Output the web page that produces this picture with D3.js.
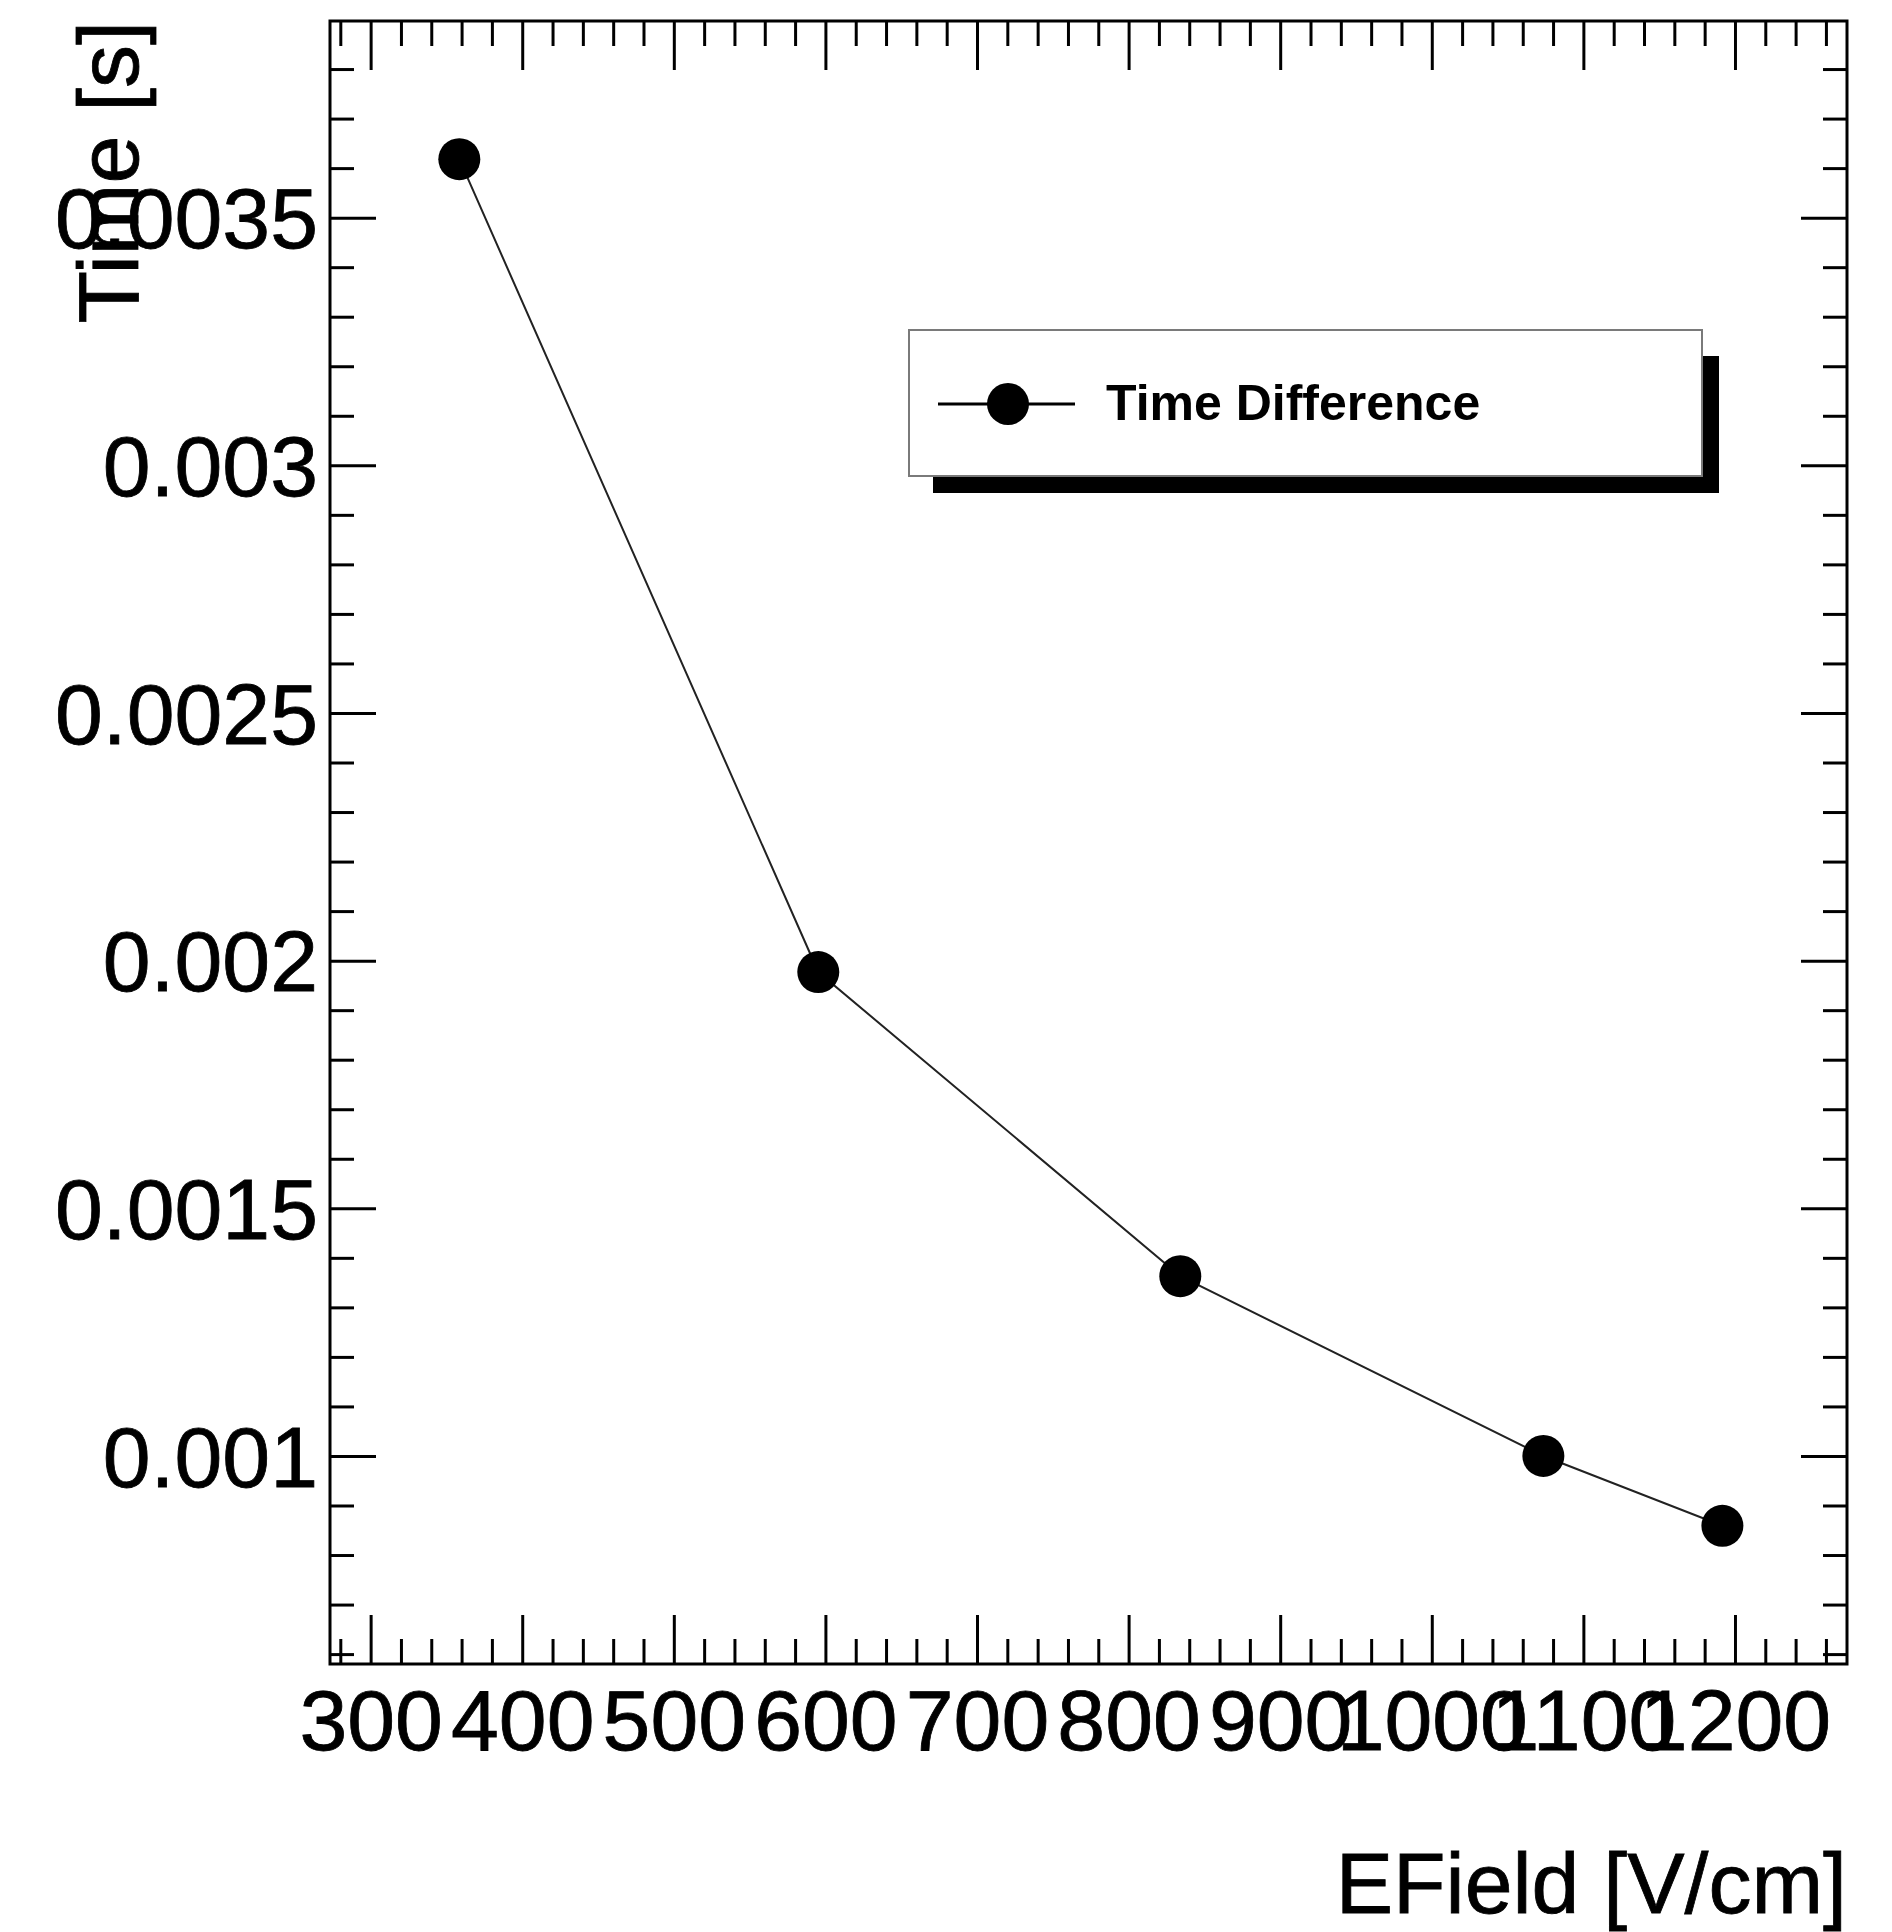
<!DOCTYPE html>
<html>
<head>
<meta charset="utf-8">
<script src="https://cdn.jsdelivr.net/npm/d3@7"></script>
<style>
  html, body { margin: 0; padding: 0; background: #fff; }
  svg { display: block; }
  text { font-family: "Liberation Sans", Arial, Helvetica, sans-serif; fill: #000; }
</style>
</head>
<body>
<svg id="chart" width="1892" height="1932"></svg>
<script>
// Drift time difference versus applied electric field
const efield   = [358.5, 595.3, 834.1, 1073.6, 1191.7];             // V/cm
const timeDiff = [0.003618, 0.001977, 0.001363, 0.001000, 0.000859]; // s

// Axis limits
const xLimits = [273.2, 1273.9];
const yLimits = [0.00058, 0.003897];

const xMajorTicks = [300, 400, 500, 600, 700, 800, 900, 1000, 1100, 1200];
const xTickLabels = ["300", "400", "500", "600", "700", "800", "900", "1000", "1100", "1200"];
const yMajorTicks = [0.001, 0.0015, 0.002, 0.0025, 0.003, 0.0035];
const yTickLabels = ["0.001", "0.0015", "0.002", "0.0025", "0.003", "0.0035"];

const seriesName = "Time Difference";
const xTitle = "EField [V/cm]";
const yTitle = "Time [s]";

const W = 1892, H = 1932;
const frame = { left: 330, right: 1847, top: 21, bottom: 1664 };

const x = d3.scaleLinear().domain(xLimits).range([frame.left, frame.right]);
const y = d3.scaleLinear().domain(yLimits).range([frame.bottom, frame.top]);

// Minor tick positions: every 20 V/cm and every 0.0001 s inside the range
const xMinor = d3.range(Math.ceil(xLimits[0] / 20) * 20, xLimits[1], 20)
  .filter(v => Math.abs(v % 100) > 1e-6);
const yMinor = d3.range(Math.ceil(yLimits[0] / 0.0001), Math.floor(yLimits[1] / 0.0001) + 1)
  .map(k => k * 0.0001)
  .filter(v => Math.abs(Math.round(v / 0.0005) * 0.0005 - v) > 1e-9);

const svg = d3.select("#chart");
svg.append("rect").attr("width", W).attr("height", H).attr("fill", "#fff");

const FONT = 86;
const MAJ_X = 49, MIN_X = 25, MAJ_Y = 46, MIN_Y = 24;

function styleAxis(g) {
  g.select(".domain").remove();
  g.selectAll(".tick line").attr("stroke", "#000").attr("stroke-width", 3);
}
function styleLabels(g) {
  g.selectAll(".tick text").attr("font-size", FONT)
    .attr("font-family", "Liberation Sans, Arial, sans-serif")
    .attr("fill", "#000").attr("stroke", "#000").attr("stroke-width", 0.8);
}

// Bottom axis: ticks point into the frame, labels below
const xLab = d3.scaleOrdinal().domain(xMajorTicks).range(xTickLabels);
svg.append("g").attr("transform", `translate(0,${frame.bottom})`)
  .call(d3.axisBottom(x).tickValues(xMajorTicks).tickSize(-MAJ_X).tickPadding(25)
    .tickFormat(v => xLab(v)))
  .call(styleAxis)
  .call(styleLabels);
svg.append("g").attr("transform", `translate(0,${frame.bottom})`)
  .call(d3.axisBottom(x).tickValues(xMinor).tickSize(-MIN_X).tickFormat(""))
  .call(styleAxis);

// Top axis: ticks only
svg.append("g").attr("transform", `translate(0,${frame.top})`)
  .call(d3.axisTop(x).tickValues(xMajorTicks).tickSize(-MAJ_X).tickFormat(""))
  .call(styleAxis);
svg.append("g").attr("transform", `translate(0,${frame.top})`)
  .call(d3.axisTop(x).tickValues(xMinor).tickSize(-MIN_X).tickFormat(""))
  .call(styleAxis);

// Left axis: ticks point into the frame, labels to the left
const yLab = d3.scaleOrdinal().domain(yMajorTicks).range(yTickLabels);
svg.append("g").attr("transform", `translate(${frame.left},0)`)
  .call(d3.axisLeft(y).tickValues(yMajorTicks).tickSize(-MAJ_Y).tickPadding(12)
    .tickFormat(v => yLab(v)))
  .call(styleAxis)
  .call(styleLabels)
  .call(g => g.selectAll(".tick text").attr("dy", "0.35em"));
svg.append("g").attr("transform", `translate(${frame.left},0)`)
  .call(d3.axisLeft(y).tickValues(yMinor).tickSize(-MIN_Y).tickFormat(""))
  .call(styleAxis);

// Right axis: ticks only
svg.append("g").attr("transform", `translate(${frame.right},0)`)
  .call(d3.axisRight(y).tickValues(yMajorTicks).tickSize(-MAJ_Y).tickFormat(""))
  .call(styleAxis);
svg.append("g").attr("transform", `translate(${frame.right},0)`)
  .call(d3.axisRight(y).tickValues(yMinor).tickSize(-MIN_Y).tickFormat(""))
  .call(styleAxis);

// Frame
svg.append("rect")
  .attr("x", frame.left).attr("y", frame.top)
  .attr("width", frame.right - frame.left).attr("height", frame.bottom - frame.top)
  .attr("fill", "none").attr("stroke", "#000").attr("stroke-width", 3);

// Axis titles, aligned to the far end of each axis
svg.append("text")
  .attr("x", frame.right).attr("y", 1913)
  .attr("text-anchor", "end").attr("font-size", FONT)
  .attr("stroke", "#000").attr("stroke-width", 0.8)
  .text(xTitle);
svg.append("text")
  .attr("transform", `translate(138,${frame.top}) rotate(-90)`)
  .attr("text-anchor", "end").attr("font-size", FONT)
  .attr("stroke", "#000").attr("stroke-width", 0.8)
  .text(yTitle);

// Graph: polyline plus filled circle markers
const pts = efield.map((e, i) => [e, timeDiff[i]]);
svg.append("path")
  .datum(pts)
  .attr("d", d3.line().x(d => x(d[0])).y(d => y(d[1])))
  .attr("fill", "none").attr("stroke", "#222").attr("stroke-width", 2);
svg.append("g").selectAll("circle").data(pts).join("circle")
  .attr("cx", d => x(d[0])).attr("cy", d => y(d[1]))
  .attr("r", 21).attr("fill", "#000");

// Legend box with drop shadow
const leg = { x: 909, y: 330, w: 793, h: 146, shadow: 17 };
svg.append("rect")
  .attr("x", leg.x + 24).attr("y", leg.y + 26)
  .attr("width", leg.w - 24 + leg.shadow).attr("height", leg.h - 26 + leg.shadow)
  .attr("fill", "#000");
svg.append("rect")
  .attr("x", leg.x).attr("y", leg.y).attr("width", leg.w).attr("height", leg.h)
  .attr("fill", "#fff").attr("stroke", "#7a7a7a").attr("stroke-width", 2);
const ly = leg.y + 74;
svg.append("line")
  .attr("x1", leg.x + 29).attr("x2", leg.x + 166).attr("y1", ly).attr("y2", ly)
  .attr("stroke", "#000").attr("stroke-width", 3);
svg.append("circle").attr("cx", leg.x + 99).attr("cy", ly).attr("r", 21).attr("fill", "#000");
svg.append("text")
  .attr("x", leg.x + 197).attr("y", ly + 16)
  .attr("font-size", 50).attr("font-weight", "bold")
  .text(seriesName);
</script>
</body>
</html>
